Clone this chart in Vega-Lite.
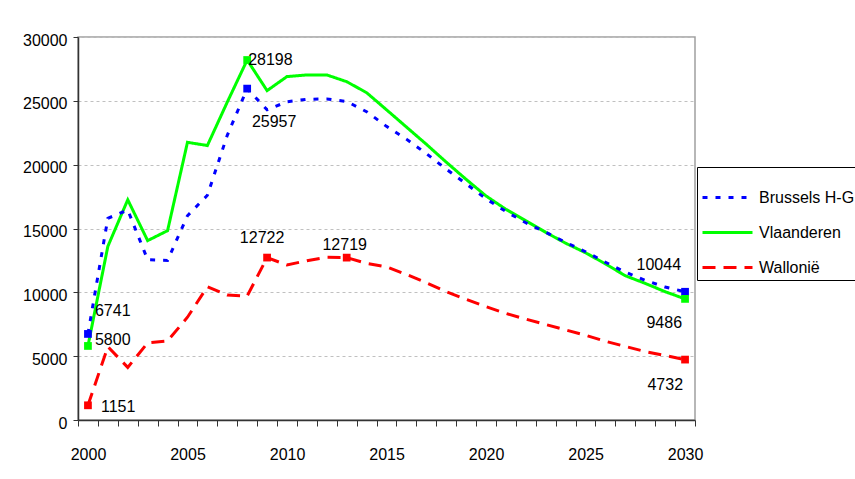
{
  "$schema": "https://vega.github.io/schema/vega-lite/v6.json",
  "width": 617,
  "height": 383,
  "autosize": {"type": "none"},
  "padding": {"left": 78, "top": 37, "right": 160, "bottom": 59},
  "background": "white",
  "config": {
    "font": "Liberation Sans, Arial, sans-serif",
    "view": {"stroke": "#a0a0a0", "strokeWidth": 1.5},
    "text": {"fontSize": 16, "font": "Liberation Sans, Arial, sans-serif", "color": "black", "baseline": "middle"}
  },
  "datasets": {
    "series": [
      {"region": "Wallonië", "year": 2000, "value": 1151},
      {"region": "Wallonië", "year": 2001, "value": 5740},
      {"region": "Wallonië", "year": 2002, "value": 4120},
      {"region": "Wallonië", "year": 2003, "value": 6050},
      {"region": "Wallonië", "year": 2004, "value": 6190},
      {"region": "Wallonië", "year": 2005, "value": 8050},
      {"region": "Wallonië", "year": 2006, "value": 10440},
      {"region": "Wallonië", "year": 2007, "value": 9790},
      {"region": "Wallonië", "year": 2008, "value": 9710},
      {"region": "Wallonië", "year": 2009, "value": 12722},
      {"region": "Wallonië", "year": 2010, "value": 12140},
      {"region": "Wallonië", "year": 2011, "value": 12480},
      {"region": "Wallonië", "year": 2012, "value": 12740},
      {"region": "Wallonië", "year": 2013, "value": 12719},
      {"region": "Wallonië", "year": 2014, "value": 12270},
      {"region": "Wallonië", "year": 2015, "value": 12000},
      {"region": "Wallonië", "year": 2016, "value": 11400},
      {"region": "Wallonië", "year": 2017, "value": 10750},
      {"region": "Wallonië", "year": 2018, "value": 10050},
      {"region": "Wallonië", "year": 2019, "value": 9450},
      {"region": "Wallonië", "year": 2020, "value": 8880},
      {"region": "Wallonië", "year": 2021, "value": 8350},
      {"region": "Wallonië", "year": 2022, "value": 7900},
      {"region": "Wallonië", "year": 2023, "value": 7480},
      {"region": "Wallonië", "year": 2024, "value": 7060},
      {"region": "Wallonië", "year": 2025, "value": 6640},
      {"region": "Wallonië", "year": 2026, "value": 6170},
      {"region": "Wallonië", "year": 2027, "value": 5760},
      {"region": "Wallonië", "year": 2028, "value": 5360},
      {"region": "Wallonië", "year": 2029, "value": 5050},
      {"region": "Wallonië", "year": 2030, "value": 4732},
      {"region": "Vlaanderen", "year": 2000, "value": 5800},
      {"region": "Vlaanderen", "year": 2001, "value": 13600},
      {"region": "Vlaanderen", "year": 2002, "value": 17250},
      {"region": "Vlaanderen", "year": 2003, "value": 14050},
      {"region": "Vlaanderen", "year": 2004, "value": 14830},
      {"region": "Vlaanderen", "year": 2005, "value": 21750},
      {"region": "Vlaanderen", "year": 2006, "value": 21500},
      {"region": "Vlaanderen", "year": 2007, "value": 24900},
      {"region": "Vlaanderen", "year": 2008, "value": 28198},
      {"region": "Vlaanderen", "year": 2009, "value": 25800},
      {"region": "Vlaanderen", "year": 2010, "value": 26900},
      {"region": "Vlaanderen", "year": 2011, "value": 27030},
      {"region": "Vlaanderen", "year": 2012, "value": 27030},
      {"region": "Vlaanderen", "year": 2013, "value": 26500},
      {"region": "Vlaanderen", "year": 2014, "value": 25640},
      {"region": "Vlaanderen", "year": 2015, "value": 24300},
      {"region": "Vlaanderen", "year": 2016, "value": 22950},
      {"region": "Vlaanderen", "year": 2017, "value": 21600},
      {"region": "Vlaanderen", "year": 2018, "value": 20200},
      {"region": "Vlaanderen", "year": 2019, "value": 18850},
      {"region": "Vlaanderen", "year": 2020, "value": 17550},
      {"region": "Vlaanderen", "year": 2021, "value": 16500},
      {"region": "Vlaanderen", "year": 2022, "value": 15600},
      {"region": "Vlaanderen", "year": 2023, "value": 14700},
      {"region": "Vlaanderen", "year": 2024, "value": 13850},
      {"region": "Vlaanderen", "year": 2025, "value": 13100},
      {"region": "Vlaanderen", "year": 2026, "value": 12230},
      {"region": "Vlaanderen", "year": 2027, "value": 11300},
      {"region": "Vlaanderen", "year": 2028, "value": 10700},
      {"region": "Vlaanderen", "year": 2029, "value": 10050},
      {"region": "Vlaanderen", "year": 2030, "value": 9486},
      {"region": "Brussels H-G", "year": 2000, "value": 6741},
      {"region": "Brussels H-G", "year": 2001, "value": 15800},
      {"region": "Brussels H-G", "year": 2002, "value": 16450},
      {"region": "Brussels H-G", "year": 2003, "value": 12550},
      {"region": "Brussels H-G", "year": 2004, "value": 12500},
      {"region": "Brussels H-G", "year": 2005, "value": 16000},
      {"region": "Brussels H-G", "year": 2006, "value": 17600},
      {"region": "Brussels H-G", "year": 2007, "value": 22300},
      {"region": "Brussels H-G", "year": 2008, "value": 25957},
      {"region": "Brussels H-G", "year": 2009, "value": 24300},
      {"region": "Brussels H-G", "year": 2010, "value": 24930},
      {"region": "Brussels H-G", "year": 2011, "value": 25120},
      {"region": "Brussels H-G", "year": 2012, "value": 25150},
      {"region": "Brussels H-G", "year": 2013, "value": 24950},
      {"region": "Brussels H-G", "year": 2014, "value": 24150},
      {"region": "Brussels H-G", "year": 2015, "value": 23000},
      {"region": "Brussels H-G", "year": 2016, "value": 22000},
      {"region": "Brussels H-G", "year": 2017, "value": 20870},
      {"region": "Brussels H-G", "year": 2018, "value": 19650},
      {"region": "Brussels H-G", "year": 2019, "value": 18500},
      {"region": "Brussels H-G", "year": 2020, "value": 17330},
      {"region": "Brussels H-G", "year": 2021, "value": 16330},
      {"region": "Brussels H-G", "year": 2022, "value": 15450},
      {"region": "Brussels H-G", "year": 2023, "value": 14700},
      {"region": "Brussels H-G", "year": 2024, "value": 13920},
      {"region": "Brussels H-G", "year": 2025, "value": 13180},
      {"region": "Brussels H-G", "year": 2026, "value": 12360},
      {"region": "Brussels H-G", "year": 2027, "value": 11580},
      {"region": "Brussels H-G", "year": 2028, "value": 10940},
      {"region": "Brussels H-G", "year": 2029, "value": 10420},
      {"region": "Brussels H-G", "year": 2030, "value": 10044}
    ],
    "labels": [
      {"region": "Brussels H-G", "year": 2000, "value": 6741},
      {"region": "Brussels H-G", "year": 2008, "value": 25957},
      {"region": "Brussels H-G", "year": 2030, "value": 10044},
      {"region": "Vlaanderen", "year": 2000, "value": 5800},
      {"region": "Vlaanderen", "year": 2008, "value": 28198},
      {"region": "Vlaanderen", "year": 2030, "value": 9486},
      {"region": "Wallonië", "year": 2000, "value": 1151},
      {"region": "Wallonië", "year": 2009, "value": 12722},
      {"region": "Wallonië", "year": 2013, "value": 12719},
      {"region": "Wallonië", "year": 2030, "value": 4732}
    ]
  },
  "encoding": {
    "x": {
      "field": "year", "type": "quantitative",
      "scale": {"domain": [1999.5, 2030.5], "nice": false, "zero": false},
      "axis": {
        "title": null,
        "values": [1999.5, 2000.5, 2001.5, 2002.5, 2003.5, 2004.5, 2005.5, 2006.5, 2007.5, 2008.5, 2009.5, 2010.5, 2011.5, 2012.5, 2013.5, 2014.5, 2015.5, 2016.5, 2017.5, 2018.5, 2019.5, 2020.5, 2021.5, 2022.5, 2023.5, 2024.5, 2025.5, 2026.5, 2027.5, 2028.5, 2029.5, 2030.5],
        "labelExpr": "(datum.value + 0.5) % 5 == 0 ? '' + (datum.value + 0.5) : ''",
        "labelOffset": 10,
        "labelFlush": false,
        "labelOverlap": false,
        "labelPadding": 20,
        "labelFontSize": 16,
        "labelColor": "black",
        "labelFont": "Liberation Sans, Arial, sans-serif",
        "tickSize": 6,
        "tickColor": "#333333",
        "domainColor": "#333333",
        "domainWidth": 1.5,
        "grid": false
      }
    },
    "y": {
      "field": "value", "type": "quantitative",
      "scale": {"domain": [0, 30000], "nice": false},
      "axis": {
        "title": null,
        "values": [0, 5000, 10000, 15000, 20000, 25000, 30000],
        "format": "d",
        "labelFontSize": 16,
        "labelColor": "black",
        "labelFont": "Liberation Sans, Arial, sans-serif",
        "labelPadding": 6,
        "labelOffset": 3,
        "tickSize": 5,
        "tickColor": "#333333",
        "domainColor": "#333333",
        "domainWidth": 1.5,
        "grid": true,
        "gridColor": "#c0c0c0",
        "gridDash": [3, 3]
      }
    }
  },
  "layer": [
    {
      "data": {"name": "series"},
      "mark": {"type": "line", "strokeWidth": 3},
      "encoding": {
        "color": {
          "field": "region", "type": "nominal",
          "scale": {"domain": ["Brussels H-G", "Vlaanderen", "Wallonië"], "range": ["#0000ff", "#00ff00", "#ff0000"]},
          "legend": {
            "title": null, "orient": "none", "legendX": 619, "legendY": 130,
            "symbolType": "stroke", "symbolSize": 2500, "symbolStrokeWidth": 3,
            "labelFontSize": 16, "labelColor": "black",
            "labelFont": "Liberation Sans, Arial, sans-serif",
            "fillColor": "white", "strokeColor": "black", "padding": 4, "labelOffset": 5, "rowPadding": -2
          }
        },
        "strokeDash": {
          "field": "region", "type": "nominal",
          "scale": {"domain": ["Brussels H-G", "Vlaanderen", "Wallonië"], "range": [[5, 8], [1, 0], [13, 8]]},
          "legend": {
            "title": null, "orient": "none", "legendX": 619, "legendY": 130,
            "symbolType": "stroke", "symbolSize": 2500, "symbolStrokeWidth": 3,
            "labelFontSize": 16, "labelColor": "black",
            "labelFont": "Liberation Sans, Arial, sans-serif",
            "fillColor": "white", "strokeColor": "black", "padding": 4, "labelOffset": 5, "rowPadding": -2
          }
        }
      }
    },
    {
      "data": {"name": "labels"},
      "mark": {"type": "point", "shape": "square", "filled": true, "size": 60, "opacity": 1},
      "encoding": {
        "fill": {
          "field": "region", "type": "nominal",
          "scale": {"domain": ["Brussels H-G", "Vlaanderen", "Wallonië"], "range": ["#0000ff", "#00ff00", "#ff0000"]},
          "legend": null
        }
      }
    },
    {"data": {"name": "labels"}, "transform": [{"filter": "datum.region == 'Brussels H-G' && datum.year == 2000"}], "mark": {"type": "text", "align": "left", "dx": 7, "dy": -23}, "encoding": {"text": {"field": "value", "type": "quantitative", "format": "d"}}},
    {"data": {"name": "labels"}, "transform": [{"filter": "datum.region == 'Vlaanderen' && datum.year == 2000"}], "mark": {"type": "text", "align": "left", "dx": 7, "dy": -6}, "encoding": {"text": {"field": "value", "type": "quantitative", "format": "d"}}},
    {"data": {"name": "labels"}, "transform": [{"filter": "datum.region == 'Wallonië' && datum.year == 2000"}], "mark": {"type": "text", "align": "left", "dx": 13, "dy": 2}, "encoding": {"text": {"field": "value", "type": "quantitative", "format": "d"}}},
    {"data": {"name": "labels"}, "transform": [{"filter": "datum.region == 'Vlaanderen' && datum.year == 2008"}], "mark": {"type": "text", "align": "left", "dx": 1, "dy": 0}, "encoding": {"text": {"field": "value", "type": "quantitative", "format": "d"}}},
    {"data": {"name": "labels"}, "transform": [{"filter": "datum.region == 'Brussels H-G' && datum.year == 2008"}], "mark": {"type": "text", "align": "center", "dx": 27, "dy": 33}, "encoding": {"text": {"field": "value", "type": "quantitative", "format": "d"}}},
    {"data": {"name": "labels"}, "transform": [{"filter": "datum.region == 'Wallonië' && datum.year == 2009"}], "mark": {"type": "text", "align": "center", "dx": -5, "dy": -20}, "encoding": {"text": {"field": "value", "type": "quantitative", "format": "d"}}},
    {"data": {"name": "labels"}, "transform": [{"filter": "datum.region == 'Wallonië' && datum.year == 2013"}], "mark": {"type": "text", "align": "center", "dx": -2, "dy": -13}, "encoding": {"text": {"field": "value", "type": "quantitative", "format": "d"}}},
    {"data": {"name": "labels"}, "transform": [{"filter": "datum.region == 'Brussels H-G' && datum.year == 2030"}], "mark": {"type": "text", "align": "right", "dx": -4, "dy": -27}, "encoding": {"text": {"field": "value", "type": "quantitative", "format": "d"}}},
    {"data": {"name": "labels"}, "transform": [{"filter": "datum.region == 'Vlaanderen' && datum.year == 2030"}], "mark": {"type": "text", "align": "right", "dx": -3, "dy": 24}, "encoding": {"text": {"field": "value", "type": "quantitative", "format": "d"}}},
    {"data": {"name": "labels"}, "transform": [{"filter": "datum.region == 'Wallonië' && datum.year == 2030"}], "mark": {"type": "text", "align": "right", "dx": -2, "dy": 25}, "encoding": {"text": {"field": "value", "type": "quantitative", "format": "d"}}}
  ]
}
